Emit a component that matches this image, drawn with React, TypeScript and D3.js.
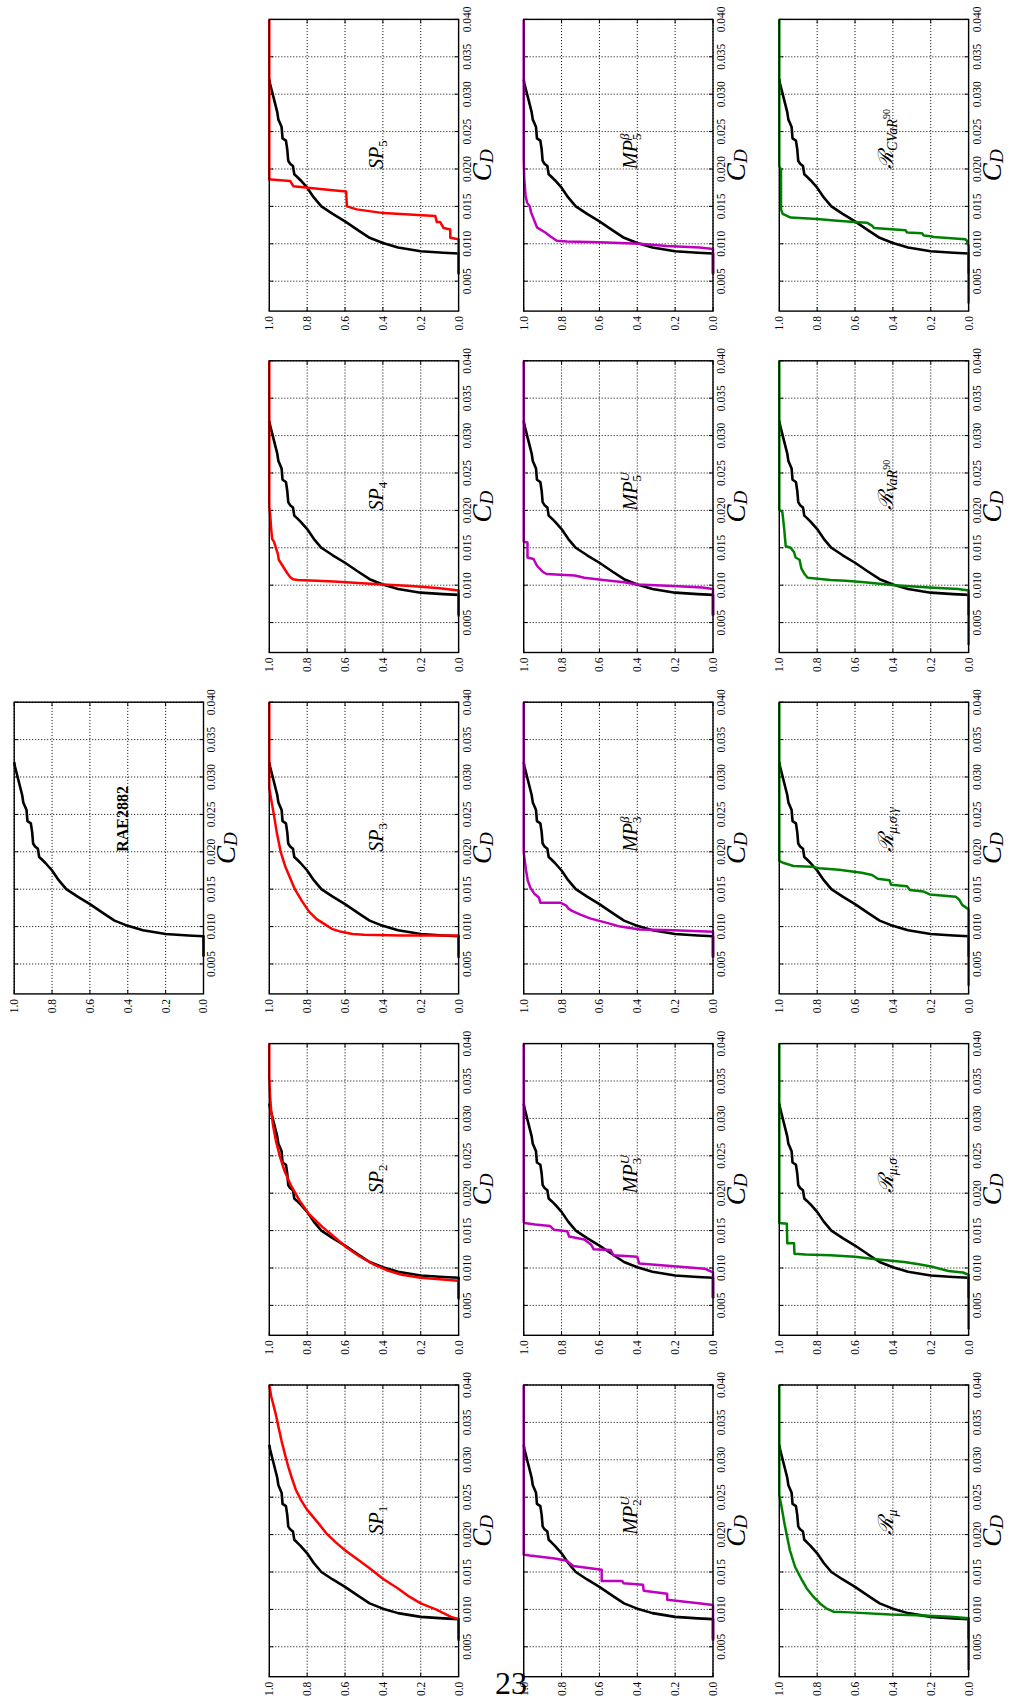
import React from "react";
import * as d3 from "d3";

// ---------- data ----------
const CD_TICKS = [0.005, 0.01, 0.015, 0.02, 0.025, 0.03, 0.035, 0.04];
const CD_TICK_LABELS = ["0.005", "0.010", "0.015", "0.020", "0.025", "0.030", "0.035", "0.040"];
const P_TICKS = [0, 0.2, 0.4, 0.6, 0.8, 1.0];
const P_TICK_LABELS = ["0.0", "0.2", "0.4", "0.6", "0.8", "1.0"];
const CD_DOMAIN = [0.001, 0.04];

const RAE2882 = [[0.0060,0],[0.0087,0],[0.0088,0.08],[0.0090,0.2],[0.0095,0.32],[0.0101,0.4],[0.0108,0.47],[0.0118,0.53],[0.0130,0.6],[0.0140,0.665],[0.0150,0.725],[0.0162,0.765],[0.0175,0.80],[0.0185,0.835],[0.0190,0.855],[0.0193,0.868],[0.0204,0.875],[0.0207,0.89],[0.0211,0.90],[0.0226,0.905],[0.0238,0.912],[0.0241,0.93],[0.0256,0.935],[0.0262,0.945],[0.0266,0.952],[0.0276,0.958],[0.0286,0.968],[0.0296,0.978],[0.0306,0.988],[0.0314,0.996],[0.0320,1.0]];

const SP1 = [[0.0058,0],[0.0087,0],[0.0090,0.04],[0.0095,0.08],[0.0100,0.12],[0.0108,0.2],[0.0117,0.26],[0.0128,0.32],[0.0141,0.4],[0.0155,0.47],[0.0168,0.54],[0.0179,0.6],[0.0190,0.65],[0.0202,0.7],[0.0215,0.74],[0.0233,0.8],[0.0245,0.83],[0.026,0.86],[0.0275,0.88],[0.0291,0.9],[0.031,0.92],[0.0325,0.935],[0.0342,0.95],[0.036,0.965],[0.0385,0.99],[0.040,1.0]];
const SP2 = [[0.0058,0],[0.0083,0],[0.0085,0.1],[0.0087,0.2],[0.0091,0.3],[0.0097,0.38],[0.0105,0.45],[0.0115,0.52],[0.0127,0.59],[0.0140,0.65],[0.0155,0.72],[0.0172,0.79],[0.019,0.84],[0.021,0.885],[0.023,0.92],[0.025,0.945],[0.027,0.965],[0.029,0.98],[0.031,0.99],[0.033,0.996],[0.0355,1.0],[0.040,1.0]];
const SP3 = [[0.0058,0],[0.0088,0],[0.0088,0.3],[0.0089,0.5],[0.0090,0.56],[0.0093,0.62],[0.0097,0.67],[0.0102,0.70],[0.011,0.75],[0.012,0.79],[0.0135,0.83],[0.015,0.865],[0.0165,0.89],[0.018,0.915],[0.020,0.94],[0.0225,0.96],[0.025,0.976],[0.027,0.99],[0.0285,1.0],[0.040,1.0]];
const SP4 = [[0.0058,0],[0.0093,0],[0.0096,0.1],[0.0099,0.25],[0.0101,0.4],[0.0103,0.53],[0.0105,0.66],[0.0106,0.75],[0.0107,0.85],[0.0108,0.875],[0.0111,0.89],[0.0116,0.905],[0.0122,0.92],[0.0128,0.935],[0.0134,0.95],[0.0142,0.955],[0.015,0.965],[0.0158,0.975],[0.0162,0.985],[0.0175,0.99],[0.0193,0.995],[0.0205,1.0],[0.040,1.0]];
const SP5 = [[0.0059,0],[0.0106,0],[0.0108,0.044],[0.0119,0.044],[0.0121,0.079],[0.0129,0.097],[0.0129,0.115],[0.0137,0.123],[0.0141,0.397],[0.0146,0.538],[0.0150,0.59],[0.0170,0.594],[0.0172,0.679],[0.0177,0.873],[0.0184,0.89],[0.0186,0.99],[0.0186,1.0],[0.040,1.0]];

const MP2U = [[0.0058,0],[0.0106,0],[0.0108,0.065],[0.0113,0.242],[0.0121,0.242],[0.0125,0.366],[0.0133,0.37],[0.0135,0.473],[0.0138,0.48],[0.0138,0.588],[0.0153,0.588],[0.0158,0.738],[0.0165,0.773],[0.0168,0.835],[0.0172,0.968],[0.0173,0.995],[0.0173,1.0],[0.040,1.0]];
const MP3U = [[0.0060,0],[0.0094,0],[0.0099,0.044],[0.0102,0.19],[0.0106,0.39],[0.0115,0.40],[0.0117,0.526],[0.0124,0.54],[0.0125,0.63],[0.0131,0.643],[0.0138,0.68],[0.0142,0.76],[0.0149,0.77],[0.0151,0.84],[0.0156,0.86],[0.0158,0.94],[0.0160,0.995],[0.0161,1.0],[0.040,1.0]];
const MP3B = [[0.0058,0],[0.0093,0],[0.0095,0.21],[0.0096,0.386],[0.0100,0.49],[0.0105,0.56],[0.0111,0.65],[0.0116,0.70],[0.0121,0.745],[0.0124,0.763],[0.0128,0.775],[0.0132,0.807],[0.0132,0.912],[0.0139,0.92],[0.0144,0.944],[0.0152,0.965],[0.0162,0.979],[0.0176,0.988],[0.0189,0.995],[0.0200,1.0],[0.040,1.0]];
const MP5U = [[0.0059,0],[0.0095,0],[0.0097,0.057],[0.0099,0.21],[0.0101,0.40],[0.0104,0.47],[0.0107,0.58],[0.0110,0.68],[0.0113,0.73],[0.0115,0.88],[0.0118,0.90],[0.0126,0.93],[0.0135,0.948],[0.0137,0.98],[0.0157,0.98],[0.0158,1.0],[0.040,1.0]];
const MP5B = [[0.0060,0],[0.0093,0],[0.0095,0.07],[0.0097,0.245],[0.0100,0.386],[0.0102,0.60],[0.0103,0.77],[0.0104,0.825],[0.0110,0.86],[0.0115,0.886],[0.0122,0.93],[0.0133,0.947],[0.0142,0.961],[0.0150,0.968],[0.0155,0.982],[0.0164,0.99],[0.0186,0.997],[0.0213,1.0],[0.040,1.0]];

const R_MU = [[0.0019,0],[0.0088,0],[0.0090,0.097],[0.0092,0.273],[0.0093,0.414],[0.0096,0.626],[0.0097,0.714],[0.0101,0.75],[0.0108,0.785],[0.0117,0.82],[0.0128,0.855],[0.0139,0.88],[0.0157,0.917],[0.0179,0.944],[0.0211,0.97],[0.0237,0.988],[0.0253,1.0],[0.040,1.0]];
const R_MU_SIG = [[0.0018,0],[0.0091,0],[0.0094,0.03],[0.0096,0.107],[0.0102,0.198],[0.0105,0.263],[0.0108,0.34],[0.0110,0.42],[0.0112,0.50],[0.0115,0.60],[0.0117,0.73],[0.0118,0.862],[0.0119,0.92],[0.0133,0.922],[0.0133,0.958],[0.0159,0.96],[0.0160,1.0],[0.040,1.0]];
const R_MU_SIG_GAM = [[0.0021,0],[0.0123,0],[0.0129,0.034],[0.0136,0.05],[0.0140,0.068],[0.0143,0.205],[0.0147,0.24],[0.0149,0.31],[0.0154,0.325],[0.0156,0.41],[0.0162,0.418],[0.0164,0.48],[0.0169,0.51],[0.0172,0.565],[0.0176,0.685],[0.0178,0.788],[0.0180,0.83],[0.0181,0.925],[0.0185,0.976],[0.0188,1.0],[0.040,1.0]];
const R_VAR90 = [[0.0020,0],[0.0093,0],[0.0095,0.055],[0.0097,0.21],[0.0100,0.39],[0.0104,0.55],[0.0106,0.65],[0.0107,0.73],[0.0109,0.81],[0.0110,0.85],[0.0115,0.867],[0.0122,0.883],[0.0134,0.893],[0.0137,0.914],[0.0144,0.922],[0.0150,0.94],[0.0152,0.966],[0.0175,0.974],[0.0198,0.984],[0.0201,1.0],[0.040,1.0]];
const R_CVAR90 = [[0.0020,0],[0.0097,0],[0.0104,0.009],[0.0106,0.018],[0.0109,0.184],[0.0110,0.2],[0.0111,0.237],[0.0114,0.246],[0.0115,0.325],[0.0118,0.333],[0.0121,0.5],[0.0124,0.509],[0.0128,0.535],[0.0129,0.605],[0.0131,0.71],[0.0133,0.80],[0.0135,0.94],[0.0140,0.982],[0.0146,0.991],[0.0199,0.991],[0.0204,1.0],[0.040,1.0]];

const RED = "#ff0000";
const MAGENTA = "#bf00bf";
const GREEN = "#008000";

type Title = { kind: "plain" | "SP" | "MP" | "R"; base: string; sub?: string; sup?: string; subsup?: string };
type Panel = { row: number; col: number; title: Title; color?: string; data?: number[][] };

const PANELS: Panel[] = [
  { row: 0, col: 2, title: { kind: "plain", base: "RAE2882" } },
  { row: 1, col: 0, title: { kind: "SP", base: "SP", sub: "1" }, color: RED, data: SP1 },
  { row: 1, col: 1, title: { kind: "SP", base: "SP", sub: "2" }, color: RED, data: SP2 },
  { row: 1, col: 2, title: { kind: "SP", base: "SP", sub: "3" }, color: RED, data: SP3 },
  { row: 1, col: 3, title: { kind: "SP", base: "SP", sub: "4" }, color: RED, data: SP4 },
  { row: 1, col: 4, title: { kind: "SP", base: "SP", sub: "5" }, color: RED, data: SP5 },
  { row: 2, col: 0, title: { kind: "MP", base: "MP", sub: "2", sup: "U" }, color: MAGENTA, data: MP2U },
  { row: 2, col: 1, title: { kind: "MP", base: "MP", sub: "3", sup: "U" }, color: MAGENTA, data: MP3U },
  { row: 2, col: 2, title: { kind: "MP", base: "MP", sub: "3", sup: "β" }, color: MAGENTA, data: MP3B },
  { row: 2, col: 3, title: { kind: "MP", base: "MP", sub: "5", sup: "U" }, color: MAGENTA, data: MP5U },
  { row: 2, col: 4, title: { kind: "MP", base: "MP", sub: "5", sup: "β" }, color: MAGENTA, data: MP5B },
  { row: 3, col: 0, title: { kind: "R", base: "ℛ", sub: "μ" }, color: GREEN, data: R_MU },
  { row: 3, col: 1, title: { kind: "R", base: "ℛ", sub: "μ,σ" }, color: GREEN, data: R_MU_SIG },
  { row: 3, col: 2, title: { kind: "R", base: "ℛ", sub: "μ,σ,γ" }, color: GREEN, data: R_MU_SIG_GAM },
  { row: 3, col: 3, title: { kind: "R", base: "ℛ", sub: "VaR", subsup: "90" }, color: GREEN, data: R_VAR90 },
  { row: 3, col: 4, title: { kind: "R", base: "ℛ", sub: "CVaR", subsup: "90" }, color: GREEN, data: R_CVAR90 },
];

// ---------- layout (in the un-rotated landscape frame) ----------
const PW = 291.7;
const PH = 189.3;
const ROW_TOP = [14.2, 269.3, 523.7, 779.3];
const COL_LEFT0 = 27.3;
const COL_STEP = 341.4;
const SERIF = "'Liberation Serif', 'DejaVu Serif', serif";

const xS = d3.scaleLinear().domain(CD_DOMAIN).range([0, PW]);
const yS = d3.scaleLinear().domain([0, 1]).range([PH, 0]);
const lineGen = d3.line<number[]>().x((d) => xS(d[0])).y((d) => yS(d[1]));

function PanelTitle({ t }: { t: Title }) {
  const x = xS(0.02);
  const y = yS(0.4);
  if (t.kind === "plain") {
    return (
      <text x={x} y={y} fontFamily={SERIF} fontWeight="bold" fontSize={16}>
        {t.base}
      </text>
    );
  }
  if (t.kind === "SP") {
    return (
      <text x={x} y={y} fontFamily={SERIF} fontStyle="italic" fontSize={20}>
        <tspan>{t.base}</tspan>
        <tspan fontStyle="normal" fontSize={13} dy={4}>{t.sub}</tspan>
      </text>
    );
  }
  if (t.kind === "MP") {
    return (
      <text x={x} y={y} fontFamily={SERIF} fontStyle="italic" fontSize={20}>
        <tspan>{t.base}</tspan>
        <tspan fontStyle="normal" fontSize={13} dy={4}>{t.sub}</tspan>
        <tspan fontSize={13} dx={-6.5} dy={-12}>{t.sup}</tspan>
      </text>
    );
  }
  return (
    <text x={x} y={y} fontFamily={SERIF} fontStyle="italic" fontSize={21}>
      <tspan fontFamily="'DejaVu Serif', serif" fontStyle="italic">{t.base}</tspan>
      <tspan fontSize={14} dy={4}>{t.sub}</tspan>
      {t.subsup ? <tspan fontStyle="normal" fontSize={10} dy={-7}>{t.subsup}</tspan> : null}
    </text>
  );
}

function PanelView({ p }: { p: Panel }) {
  const tx = COL_LEFT0 + COL_STEP * p.col;
  const ty = ROW_TOP[p.row];
  return (
    <g transform={`translate(${tx},${ty})`}>
      {/* grid */}
      {CD_TICKS.map((v, i) => (
        <line key={"gx" + i} x1={xS(v)} x2={xS(v)} y1={0} y2={PH} stroke="#000" strokeWidth={1} strokeDasharray="1,2" />
      ))}
      {P_TICKS.map((v, i) => (
        <line key={"gy" + i} x1={0} x2={PW} y1={yS(v)} y2={yS(v)} stroke="#000" strokeWidth={1} strokeDasharray="1,2" />
      ))}
      {/* ticks */}
      {CD_TICKS.map((v, i) => (
        <g key={"tx" + i}>
          <line x1={xS(v)} x2={xS(v)} y1={PH} y2={PH - 4} stroke="#000" strokeWidth={1} />
          <line x1={xS(v)} x2={xS(v)} y1={0} y2={4} stroke="#000" strokeWidth={1} />
          <text x={xS(v)} y={PH + 12} textAnchor="middle" fontFamily={SERIF} fontSize={11.5}>
            {CD_TICK_LABELS[i]}
          </text>
        </g>
      ))}
      {P_TICKS.map((v, i) => (
        <g key={"ty" + i}>
          <line x1={0} x2={4} y1={yS(v)} y2={yS(v)} stroke="#000" strokeWidth={1} />
          <line x1={PW} x2={PW - 4} y1={yS(v)} y2={yS(v)} stroke="#000" strokeWidth={1} />
          <text x={-5} y={yS(v) + 4} textAnchor="end" fontFamily={SERIF} fontSize={11.5}>
            {P_TICK_LABELS[i]}
          </text>
        </g>
      ))}
      {/* curves */}
      <path d={lineGen(RAE2882) || ""} fill="none" stroke="#000" strokeWidth={2.6} strokeLinejoin="round" />
      {p.data ? (
        <path d={lineGen(p.data) || ""} fill="none" stroke={p.color} strokeWidth={2.5} strokeLinejoin="round" />
      ) : null}
      {/* frame */}
      <rect x={0} y={0} width={PW} height={PH} fill="none" stroke="#000" strokeWidth={1.4} />
      {/* title */}
      <PanelTitle t={p.title} />
      {/* axis label */}
      <text x={PW / 2} y={PH + 32} textAnchor="middle" fontFamily={SERIF} fontStyle="italic" fontSize={27}>
        <tspan>C</tspan>
        <tspan fontSize={19} dy={2}>D</tspan>
      </text>
    </g>
  );
}

export default function App() {
  return (
    <svg
      width={1010}
      height={1704}
      viewBox="0 0 1010 1704"
      style={{ position: "absolute", left: 0, top: 0, background: "#fff" }}
    >
      <rect x={0} y={0} width={1010} height={1704} fill="#fff" />
      <g transform="translate(0,1704) rotate(-90)">
        {PANELS.map((p, i) => (
          <PanelView key={i} p={p} />
        ))}
      </g>
      <text x={511} y={1694} textAnchor="middle" fontFamily={SERIF} fontSize={32}>
        23
      </text>
    </svg>
  );
}
